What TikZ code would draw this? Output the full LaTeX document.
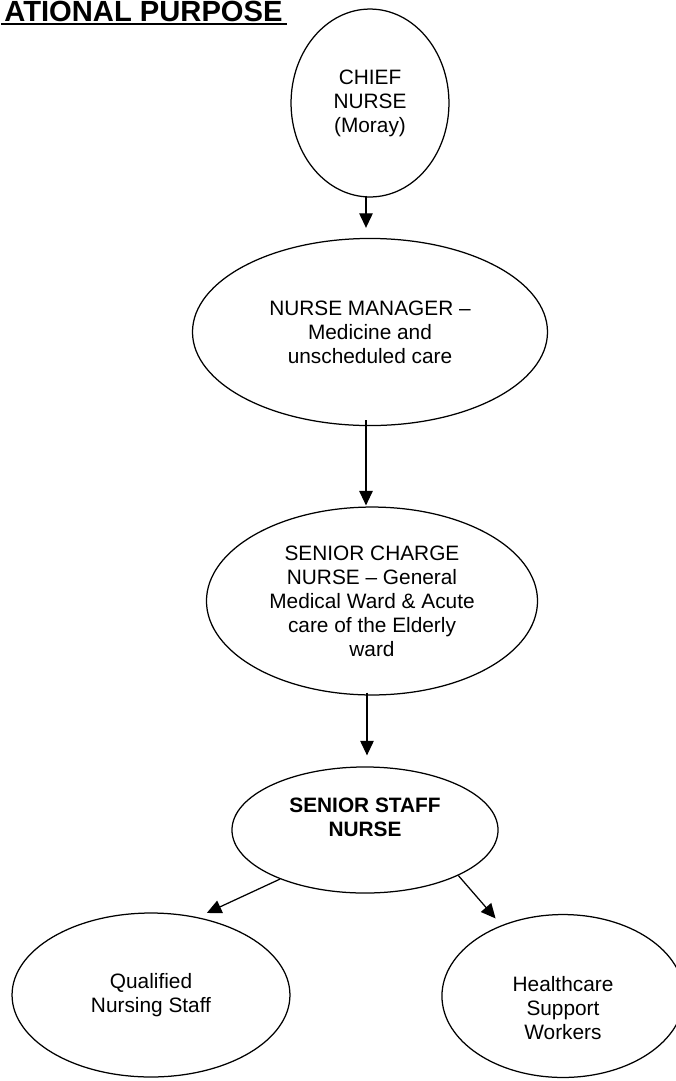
\documentclass[tikz,border=0pt]{standalone}
\usepackage{fontspec}
\setmainfont{Liberation Sans}
\usetikzlibrary{shapes.geometric, arrows.meta}

\tikzset{
    txt/.style={align=center, inner sep=0pt, font=\fontsize{10}{11.5}\selectfont},
    post/.style={txt, ellipse, draw, line width=0.6pt},
    arr/.style={-{Triangle[length=7pt, width=6.5pt]}, line width=0.6pt},
}

\begin{document}
\begin{tikzpicture}[x=0.48pt, y=-0.48pt]
    \useasboundingbox (0, 0) rectangle (675, 1081);

    \node[inner sep=0pt, anchor=base east, font=\fontsize{14}{16}\selectfont\bfseries] at (283, 21) (title) {ATIONAL PURPOSE};
    \draw[line width=1.4pt] ([shift={(-3, 3)}]title.base west) -- ([shift={(4, 3)}]title.base east);

    \node[post, minimum width=75.8pt, minimum height=90.2pt] at (370, 103) (chief) {CHIEF\\NURSE\\(Moray)};
    \node[post, minimum width=170.4pt, minimum height=89.8pt] at (370, 332) (nm) {NURSE MANAGER --\\Medicine and\\unscheduled care};
    \node[post, minimum width=158.9pt, minimum height=90.2pt] at (372, 601) (scn) {SENIOR CHARGE\\NURSE -- General\\Medical Ward \& Acute\\care of the Elderly\\ward};
    \node[post, minimum width=127.7pt, minimum height=60.5pt] at (365, 830) (ssn) {};
    \node[txt, font=\fontsize{10}{11.5}\selectfont\bfseries] at ([yshift=6.2pt]ssn.center) (ssntext) {SENIOR STAFF\\NURSE};
    \node[post, minimum width=133.4pt, minimum height=78.7pt] at (151, 995) (qns) {Qualified\\Nursing Staff};
    \node[post, minimum width=116.2pt, minimum height=78.2pt] at (563, 996) (hsw) {};
    \node[txt] at ([yshift=-5.8pt]hsw.center) (hswtext) {Healthcare\\Support\\Workers};

    \draw[arr] ([shift={(-4, -2)}]chief.south) -- ([shift={(-4, -10)}]nm.north);
    \draw[arr] ([shift={(-4, -6)}]nm.south) -- ([shift={(-6, -1)}]scn.north);
    \draw[arr] ([shift={(-5, -3)}]scn.south) -- ([shift={(2, -11)}]ssn.north);
    \draw[arr, shorten >=4.8pt] (ssn.210) -- (qns.59);
    \draw[arr, shorten >=4.3pt] (ssn.334) -- (hsw.131);
\end{tikzpicture}
\end{document}
